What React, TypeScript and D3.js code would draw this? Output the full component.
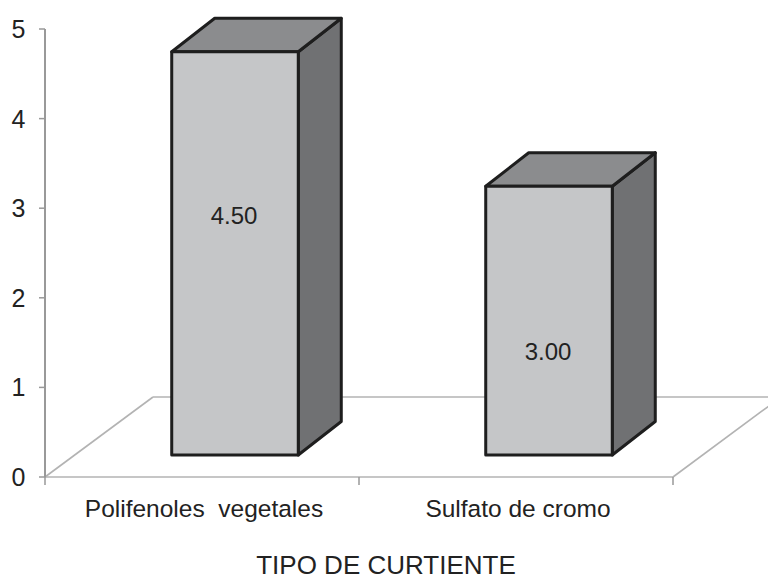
import React from "react";
import * as d3 from "d3";

const categories = ["Polifenoles  vegetales", "Sulfato de cromo"];
const values = [4.5, 3.0];
const valueLabels = ["4.50", "3.00"];
const valueLabelAt = [2.92, 1.4];
const yTicks = [0, 1, 2, 3, 4, 5];
const axisTitle = "TIPO DE CURTIENTE";

export default function App() {
  const W = 768, H = 581;
  const x0 = 45, x1 = 673;
  const y = d3.scaleLinear().domain([0, 5]).range([477, 29]);
  const x = d3.scaleBand<string>().domain(categories).range([x0, x1]).padding(0);
  const floorD = { dx: 108, dy: -80 };
  const barD = { dx: 43, dy: -33.5 };
  const barShift = { dx: 33, dy: -22 };
  const bw = x.bandwidth() * 0.403;
  const y0 = y(0);
  const font = "'Liberation Sans', Arial, Helvetica, sans-serif";
  const pts = (a: number[][]) => a.map((p) => p.join(",")).join(" ");

  return (
    <svg width={W} height={H} style={{ position: "absolute", left: 0, top: 0, background: "#fff" }}>
      {/* floor */}
      <g stroke="#b3b3b3" strokeWidth={1.6} fill="none">
        <line x1={x0} y1={y0} x2={x0 + floorD.dx} y2={y0 + floorD.dy} />
        <line x1={x0 + floorD.dx} y1={y0 + floorD.dy} x2={x1 + floorD.dx} y2={y0 + floorD.dy} />
        <line x1={x1} y1={y0} x2={x1 + floorD.dx} y2={y0 + floorD.dy} />
        <line x1={x0} y1={y0} x2={x1} y2={y0} />
      </g>
      {/* category ticks */}
      <g stroke="#999" strokeWidth={1.5}>
        {[x0, ...categories.map((c) => (x(c) as number) + x.bandwidth())].map((t, i) => (
          <line key={i} x1={t} y1={y0} x2={t} y2={y0 + 8} />
        ))}
      </g>
      {/* y axis */}
      <g>
        <line x1={x0} y1={y(5)} x2={x0} y2={y0} stroke="#999" strokeWidth={2} />
        {yTicks.map((t) => (
          <g key={t}>
            <line x1={x0 - 6} y1={y(t)} x2={x0} y2={y(t)} stroke="#999" strokeWidth={1.5} />
            <text x={25.5} y={y(t)} dy="0.36em" textAnchor="end" fontFamily={font} fontSize={25} fill="#222">
              {t}
            </text>
          </g>
        ))}
      </g>
      {/* bars */}
      {categories.map((c, i) => {
        const cx = (x(c) as number) + x.bandwidth() / 2 + barShift.dx;
        const l = cx - bw / 2, r = cx + bw / 2;
        const b = y0 + barShift.dy;
        const t = b - (y0 - y(values[i]));
        const front = [[l, t], [r, t], [r, b], [l, b]];
        const top = [[l, t], [l + barD.dx, t + barD.dy], [r + barD.dx, t + barD.dy], [r, t]];
        const side = [[r, t], [r + barD.dx, t + barD.dy], [r + barD.dx, b + barD.dy], [r, b]];
        return (
          <g key={c} stroke="#1e1e1e" strokeWidth={3} strokeLinejoin="round">
            <polygon points={pts(side)} fill="#707173" />
            <polygon points={pts(top)} fill="#8b8c8e" />
            <polygon points={pts(front)} fill="#c5c6c8" />
            <text x={cx - 1} y={y(valueLabelAt[i])} dy="0.36em" textAnchor="middle" stroke="none" fontFamily={font} fontSize={24} fill="#222">
              {valueLabels[i]}
            </text>
          </g>
        );
      })}
      {/* category labels */}
      {categories.map((c) => (
        <text key={c} x={(x(c) as number) + x.bandwidth() / 2 + 2} y={508} dy="0.36em" textAnchor="middle" fontFamily={font} fontSize={24.5} fill="#222" style={{ whiteSpace: "pre" }}>
          {c}
        </text>
      ))}
      <text x={386} y={574} textAnchor="middle" fontFamily={font} fontSize={26} fill="#222">
        {axisTitle}
      </text>
    </svg>
  );
}
